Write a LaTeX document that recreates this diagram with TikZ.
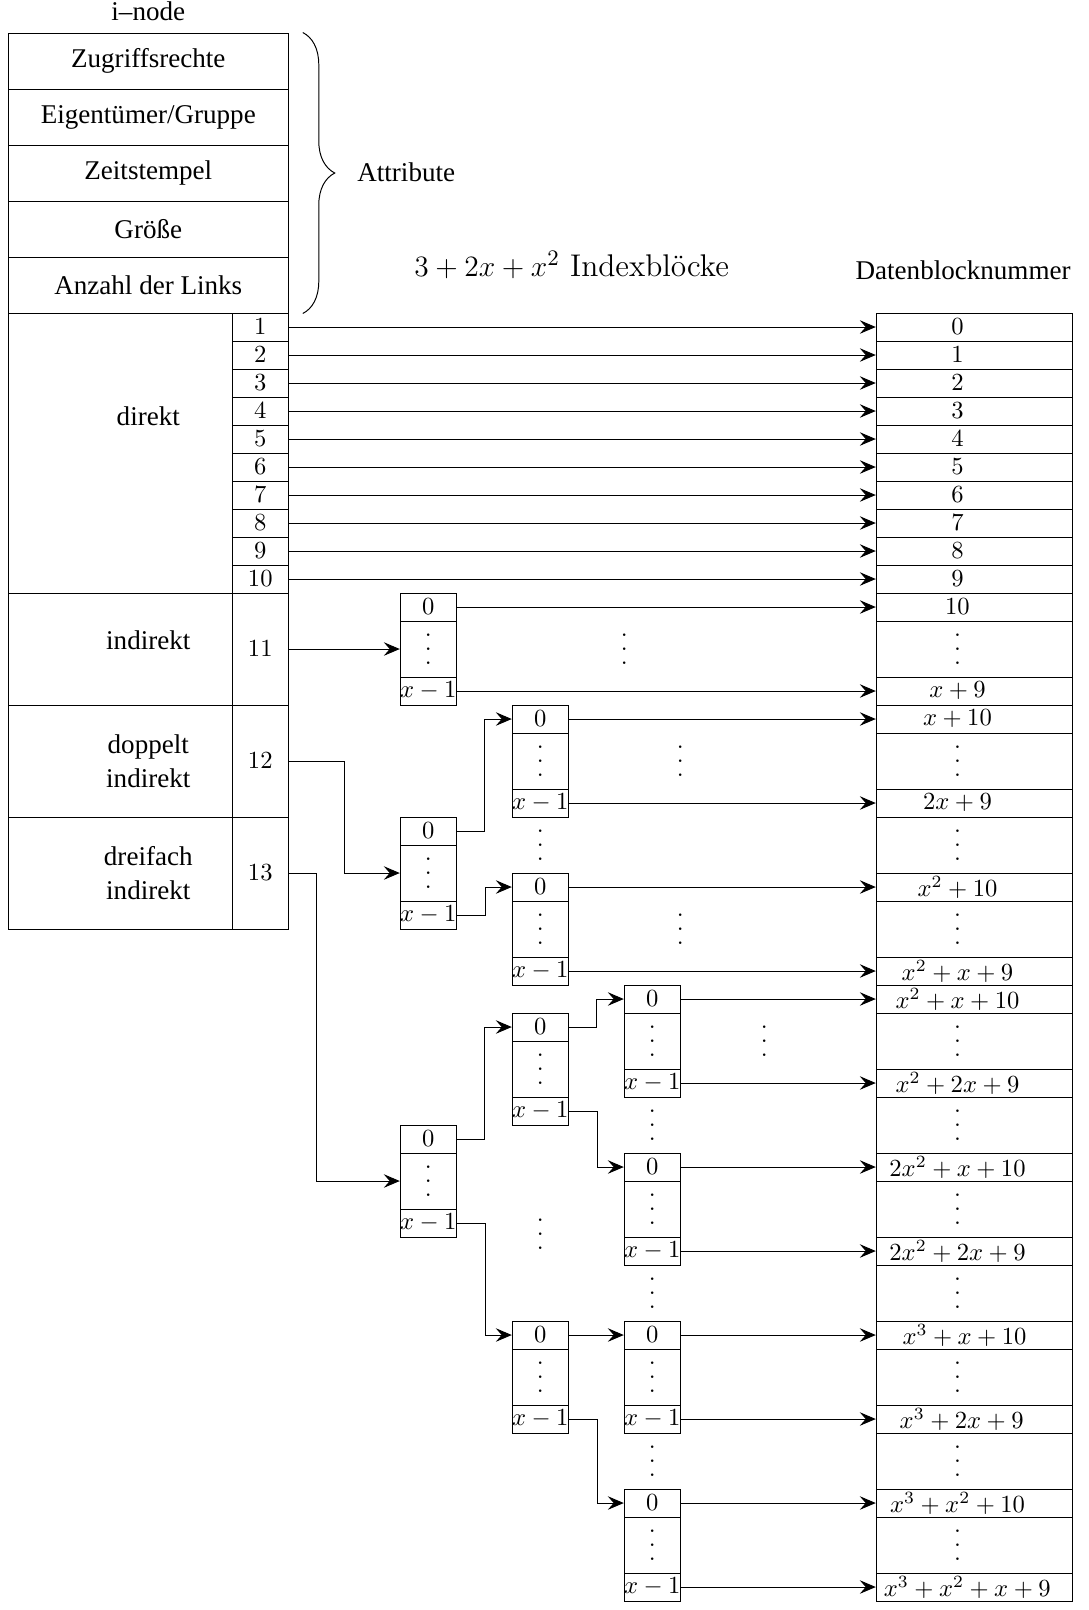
\documentclass[tikz,border=0pt]{standalone}
\usepackage[no-math]{fontspec}
\newfontfamily\tms{Liberation Serif}
\usetikzlibrary{arrows.meta,decorations.pathreplacing}
\newcommand{\vdts}{\vbox{\baselineskip=5.6pt\lineskiplimit=0pt\hbox{.}\hbox{.}\hbox{.}}}
\newcommand{\dtxt}[2][1.16cm]{\hspace*{#1}\makebox[0pt]{#2}}

\begin{document}
\begin{tikzpicture}[>={Stealth[length=6.5pt,width=5.5pt,inset=2.4pt]}, x=0.4cm, y=0.4cm,
    cell/.style={draw, inner sep=0pt, minimum width=0.8cm, minimum height=0.4cm},
    dotcell/.style={cell, minimum height=0.8cm},
    datacell/.style={draw, inner sep=0pt, minimum width=2.8cm, minimum height=0.4cm, text width=2.8cm, align=left},
    datadots/.style={datacell, minimum height=0.8cm},
    attr/.style={draw, inner sep=0pt, minimum width=4cm, minimum height=0.8cm, font=\tms\fontsize{11}{14}\selectfont},
    kind/.style={draw, inner sep=0pt, minimum width=3.2cm, minimum height=1.6cm},
    lbl/.style={inner sep=0pt, align=center, font=\tms\fontsize{11}{14}\selectfont}]
    \useasboundingbox (-0.296,11.179) rectangle (38.561,-46.321);

    % i-node mit Attributen
    \node[lbl, anchor=base] (inodelbl) at (5,10.46) {i–node};
    \foreach \t [count=\i] in {Zugriffsrechte, Eigentümer/Gruppe, Zeitstempel, Größe, Anzahl der Links}
        \node[attr] (attr\i) at (5,11-2*\i) {\t};
    \draw[decorate, decoration={brace, amplitude=13pt}] ([xshift=0.2cm]attr1.north east) -- ([xshift=0.2cm]attr5.south east);
    \node[lbl, anchor=base west] (attrlbl) at (12.45,4.71) {Attribute};

    % Zeigerarten
    \node[kind, minimum height=4cm] (direkt) at (4,-5) {};
    \node[lbl, anchor=base] (ldirekt) at (5,-4) {direkt};
    \node[kind] (ind1) at (4,-12) {};
    \node[lbl, anchor=base] (lind1) at (5,-12) {indirekt};
    \node[kind] (ind2) at (4,-16) {};
    \node[lbl] (lind2) at (5,-16) {doppelt\\indirekt};
    \node[kind] (ind3) at (4,-20) {};
    \node[lbl] (lind3) at (5,-20) {dreifach\\indirekt};

    % Zeigernummern
    \foreach \i in {1,...,10}
        \node[cell] (p\i) at (9,0.5-\i) {$\i$};
    \node[cell, minimum height=1.6cm] (p11) at (9,-12) {$11$};
    \node[cell, minimum height=1.6cm] (p12) at (9,-16) {$12$};
    \node[cell, minimum height=1.6cm] (p13) at (9,-20) {$13$};

    % Datenbloecke
    \node[lbl, anchor=base] (datalbl) at (34.1,1.18) {Datenblocknummer};
    \foreach \r in {0,...,10}
        \node[datacell] (d\r) at (34.5,-\r-0.5) {\dtxt{$\r$}};
    \foreach \r/\t/\o in {13/x+9/1.16, 14/x+10/1.16, 17/2x+9/1.16, 20/x^2+10/1.16, 23/x^2+x+9/1.16,
                          24/x^2+x+10/1.16, 27/x^2+2x+9/1.16, 30/2x^2+x+10/1.16, 33/2x^2+2x+9/1.16,
                          36/x^3+x+10/1.26, 39/x^3+2x+9/1.22, 42/x^3+x^2+10/1.16, 45/x^3+x^2+x+9/1.30}
        \node[datacell] (d\r) at (34.5,-\r-0.5) {\dtxt[\o cm]{$\t$}};
    \foreach \r in {11,15,18,21,25,28,31,34,37,40,43}
        \node[datadots] (d\r) at (34.5,-\r-1) {\dtxt{\vdts}};

    % Indexbloecke
    \node[font=\fontsize{12.75}{15}\selectfont, anchor=base] (idxlbl) at (20.12,1.3) {$3+2x+x^2$ Indexblöcke};
    \foreach \b/\x/\y in {a1/14/10, a2/14/18, a3/14/29, b1/18/14, b2/18/20, b3/18/25, b4/18/36,
                          c1/22/24, c2/22/30, c3/22/36, c4/22/42} {
        \node[cell] (\b-0) at (\x+1,-\y-0.5) {$0$};
        \node[dotcell] (\b-d) at (\x+1,-\y-2) {\vdts};
        \node[cell] (\b-x) at (\x+1,-\y-3.5) {$x-1$};
    }
    \foreach \n/\x/\y in {g1/22/12, g2/24/16, g3/24/22, g4/27/26, g5/19/19, g6/19/32.9, g7/23/29, g8/23/35, g9/23/41}
        \node[inner sep=0pt] (\n) at (\x,-\y) {\vdts};

    % Pfeile
    \foreach \i [evaluate=\i as \r using int(\i-1)] in {1,...,10}
        \draw[->] (p\i.east) -- (d\r.west);
    \draw[->] (p11.east) -- (a1-d.west);
    \draw[->] (p12.east) -- ++(2,0) |- (a2-d.west);
    \draw[->] (p13.east) -- ++(1,0) |- (a3-d.west);
    \foreach \s/\t in {a2-0/b1-0, a2-x/b2-0, a3-0/b3-0, a3-x/b4-0, b3-0/c1-0, b3-x/c2-0, b4-0/c3-0, b4-x/c4-0}
        \draw[->] (\s.east) -- ++(1,0) |- (\t.west);
    \foreach \b/\u/\v in {a1/10/13, b1/14/17, b2/20/23, c1/24/27, c2/30/33, c3/36/39, c4/42/45} {
        \draw[->] (\b-0.east) -- (d\u.west);
        \draw[->] (\b-x.east) -- (d\v.west);
    }
\end{tikzpicture}
\end{document}
